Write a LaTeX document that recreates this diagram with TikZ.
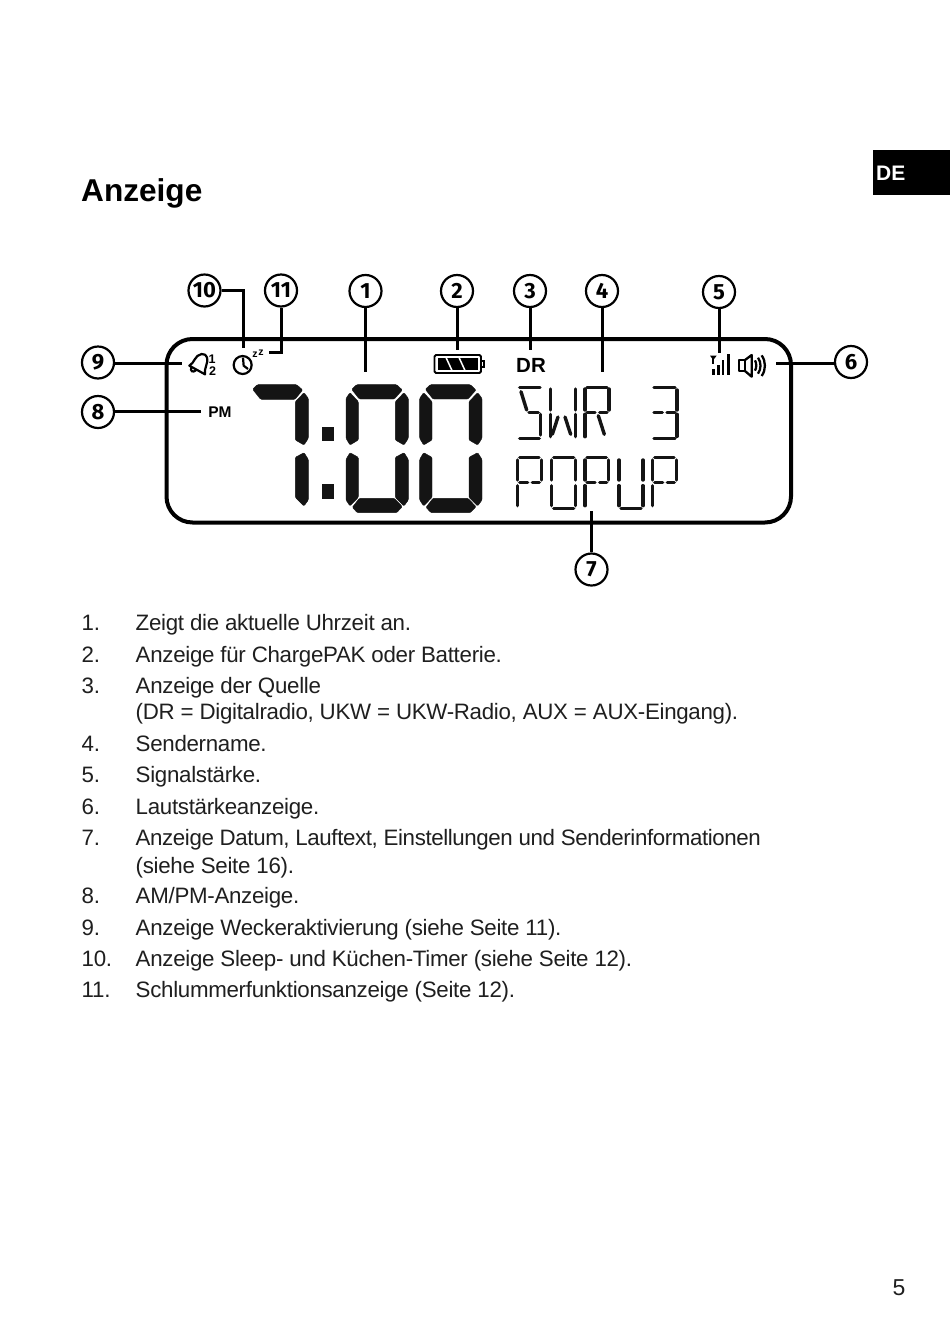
\documentclass[tikz,border=0pt]{standalone}
\usepackage{fontspec}
\setmainfont{Liberation Sans}
\newfontfamily\calloutfont{Fira Sans}
\newfontfamily\listfont[LetterSpace=-1.3]{Liberation Sans}
\newfontfamily\listtight[LetterSpace=-1.75]{Liberation Sans}
\tikzset{
 x=1pt,y=-1pt,
 callout/.style={circle,draw=black,line width=2.2pt,fill=white,minimum size=32pt,inner sep=0pt,font=\calloutfont\fontsize{22}{22}\selectfont\bfseries},
 leader/.style={line width=3pt,draw=black},
 framebox/.style={line width=4pt,draw=black,rounded corners=26pt},
 listnum/.style={anchor=base west,inner sep=0pt,text=black!88,font=\listfont\fontsize{22.3}{26}\selectfont},
 listtxt/.style={anchor=base west,inner sep=0pt,text=black!88,font=\listfont\fontsize{22.3}{26}\selectfont},
 seg/.style={fill=black!92,draw=black!92,line width=0.4pt,rounded corners=1pt},
 aseg/.style={line width=3.4pt,line cap=round,draw=black!92},
}
\newcommand{\digitzero}{%
 \fill[seg] (335,58)--(350,44)--(470,44)--(487,60)--(463,87)--(358,87)--cycle;
 \fill[seg] (330,68)--(355,95)--(355,210)--(330,225)--(318,205)--(318,85)--cycle;
 \fill[seg] (492,68)--(466,95)--(466,210)--(492,225)--(505,205)--(505,85)--cycle;
 \fill[seg] (330,248)--(355,262)--(355,382)--(330,408)--(318,390)--(318,268)--cycle;
 \fill[seg] (492,248)--(466,262)--(466,382)--(492,408)--(505,390)--(505,268)--cycle;
 \fill[seg] (358,385)--(463,385)--(487,410)--(470,428)--(352,428)--(337,412)--cycle;
}
\begin{document}
\begin{tikzpicture}
\useasboundingbox (0,0) rectangle (950,1339);
\fill[white] (0,0) rectangle (950,1339);
\node[anchor=base west,inner sep=0pt,font=\fontsize{31.6}{34}\selectfont\bfseries] (title) at (81,201) {Anzeige};
\fill[black] (873,150) rectangle (950,195);
\node[anchor=base west,inner sep=0pt,text=white,font=\fontsize{21}{24}\selectfont\bfseries] (lang) at (876,180) {DE};
\node[anchor=base,inner sep=0pt,text=black!88,font=\fontsize{23}{26}\selectfont] (page) at (899,1295) {5};
% frame
\draw[framebox] (166.5,339) rectangle (791,522.5);
% callouts
\node[callout] (c10) at (204.5,290.5) {10};
\node[callout] (c11) at (281,290.5) {11};
\node[callout] (c1) at (365.5,291) {1};
\node[callout] (c2) at (457,291) {2};
\node[callout] (c3) at (530,291) {3};
\node[callout] (c4) at (602,291) {4};
\node[callout] (c5) at (719,292) {5};
\node[callout] (c6) at (851,362) {6};
\node[callout] (c7) at (591.5,569.5) {7};
\node[callout] (c8) at (98,412) {8};
\node[callout] (c9) at (98,362.5) {9};
\coordinate (e10) at (243,348);
\coordinate (e11) at (269,352);
\coordinate (e1) at (365.5,372);
\coordinate (e2) at (457,350);
\coordinate (e3) at (530,350);
\coordinate (e4) at (602,372);
\coordinate (e5) at (719,353);
\coordinate (e6) at (776,363);
\coordinate (e7) at (591.5,511);
\coordinate (e8) at (201,411);
\coordinate (e9) at (182,363);
\draw[leader] (c10.east) -| (e10);
\draw[leader] (c11.south) |- (e11);
\draw[leader] (c1.south) -- (e1);
\draw[leader] (c2.south) -- (e2);
\draw[leader] (c3.south) -- (e3);
\draw[leader] (c4.south) -- (e4);
\draw[leader] (c5.south) -- (e5);
\draw[leader] (c6.west |- e6) -- (e6);
\draw[leader] (c7.north) -- (e7);
\draw[leader] (c8.east |- e8) -- (e8);
\draw[leader] (c9.east |- e9) -- (e9);
% PM DR
\node[inner sep=0pt,font=\fontsize{15.5}{16}\selectfont\bfseries] (pm) at (220,412.5) {PM};
\node[inner sep=0pt,font=\fontsize{20.5}{20}\selectfont\bfseries] (dr) at (531,365) {DR};
% big digits
\begin{scope}[shift={(240,370)},x=0.33333pt,y=-0.33333pt]
 \digitzero
 \begin{scope}[shift={(221,0)}]\digitzero\end{scope}
 \fill[seg] (38,58)--(52,44)--(170,44)--(188,60)--(165,88)--(62,88)--cycle;
 \fill[seg] (192,68)--(166,95)--(166,210)--(192,225)--(205,205)--(205,85)--cycle;
 \fill[seg] (192,248)--(166,262)--(166,382)--(192,408)--(205,390)--(205,268)--cycle;
 \fill[black!92] (245,172) rectangle (281,214);
 \fill[black!92] (245,342) rectangle (281,386);
\end{scope}
% alphanumeric LCD text
\begin{scope}[shift={(505,375)},x=0.33333pt,y=-0.33333pt]
 % S
 \draw[aseg] (44,38)--(105,38);
 \draw[aseg] (48,50)--(65,105);
 \draw[aseg] (72,112)--(100,112);
 \draw[aseg] (106,118)--(106,180);
 \draw[aseg] (44,190)--(103,190);
 % W
 \draw[aseg] (137,42)--(137,105);
 \draw[aseg] (137,118)--(137,185);
 \draw[aseg] (159,126)--(142,178);
 \draw[aseg] (212,42)--(212,105);
 \draw[aseg] (212,118)--(212,185);
 \draw[aseg] (180,126)--(197,178);
 % R
 \draw[aseg] (240,42)--(240,105);
 \draw[aseg] (240,118)--(240,185);
 \draw[aseg] (312,42)--(312,105);
 \draw[aseg] (246,38)--(306,38);
 \draw[aseg] (246,112)--(270,112);
 \draw[aseg] (284,112)--(306,112);
 \draw[aseg] (280,122)--(298,178);
 % 3
 \draw[aseg] (447,38)--(510,38);
 \draw[aseg] (516,45)--(516,105);
 \draw[aseg] (447,112)--(472,112);
 \draw[aseg] (486,112)--(510,112);
 \draw[aseg] (516,118)--(516,184);
 \draw[aseg] (447,190)--(510,190);
 % POPUP letters
 \foreach \ox in {0,202,405}{
  \begin{scope}[shift={(\ox,0)}]
   \draw[aseg] (38,255)--(38,315);
   \draw[aseg] (38,332)--(38,392);
   \draw[aseg] (44,248)--(102,248);
   \draw[aseg] (109,255)--(109,315);
   \draw[aseg] (44,323)--(68,323);
   \draw[aseg] (82,323)--(103,323);
  \end{scope}}
 % O
 \draw[aseg] (140,255)--(140,315);
 \draw[aseg] (140,332)--(140,392);
 \draw[aseg] (212,255)--(212,315);
 \draw[aseg] (212,332)--(212,392);
 \draw[aseg] (146,248)--(206,248);
 \draw[aseg] (146,400)--(206,400);
 % U
 \draw[aseg] (342,255)--(342,315);
 \draw[aseg] (342,332)--(342,392);
 \draw[aseg] (414,255)--(414,315);
 \draw[aseg] (414,332)--(414,392);
 \draw[aseg] (348,400)--(408,400);
\end{scope}
% bell, clock
\begin{scope}[shift={(170,335)},x=0.33333pt,y=-0.33333pt]
 \draw[line width=2.2pt,line join=round] (58,92) .. controls (74,84) and (74,60) .. (95,57) .. controls (112,55) and (116,75) .. (109,90) .. controls (105,100) and (104,110) .. (105,118) -- cycle;
 \draw[line width=2.2pt] (64,97) .. controls (60,108) and (68,114) .. (78,106);
 \draw[line width=2.2pt] (218,90) circle (27);
 \draw[line width=2.2pt] (219,68)--(221,92)--(234,102);
\end{scope}
\node[inner sep=0pt,font=\fontsize{12.5}{13}\selectfont\bfseries] (al1) at (212,359) {1};
\node[inner sep=0pt,font=\fontsize{12.5}{13}\selectfont\bfseries] (al2) at (212.5,371.5) {2};
\node[inner sep=0pt,font=\fontsize{10.5}{10}\selectfont\bfseries] (z1) at (255,355) {z};
\node[inner sep=0pt,font=\fontsize{10.5}{10}\selectfont\bfseries] (z2) at (261,352.5) {z};
% battery
\draw[line width=1.8pt,rounded corners=1.5pt] (434.5,355) rectangle (481,373);
\fill[black] (437.5,358) rectangle (478,370);
\draw[white,line width=1.5pt] (446,357.5)--(452,370.5);
\draw[white,line width=1.5pt] (459,357.5)--(465,370.5);
\fill[black] (481,360) rectangle (485,368);
\fill[white] (481.5,362) rectangle (483.2,366);
% signal and speaker
\begin{scope}[shift={(700,345)},x=0.33333pt,y=-0.33333pt]
 \fill[black] (30,32)--(50,32)--(40,45)--cycle;
 \draw[line width=2pt] (40,35)--(40,58);
 \draw[line width=2.4pt] (40,72)--(40,90);
 \draw[line width=2.4pt] (55,60)--(55,90);
 \draw[line width=2.4pt] (69,45)--(69,90);
 \draw[line width=2.4pt] (85,28)--(85,90);
 \draw[line width=2.3pt,line join=round] (118,45) rectangle (135,78);
 \draw[line width=2.3pt,line join=round] (135,45)--(155,30)--(155,95)--(135,78);
 \draw[line width=2.3pt] (165,46) .. controls (170,55) and (170,68) .. (165,77);
 \draw[line width=2.3pt] (174,38) .. controls (184,52) and (184,72) .. (174,86);
 \draw[line width=2.3pt] (185,31) .. controls (198,50) and (198,74) .. (185,93);
\end{scope}
% list
\foreach \n/\y/\t in {
 1./630/{Zeigt die aktuelle Uhrzeit an.},
 2./662/{Anzeige für ChargePAK oder Batterie.},
 3./693/{Anzeige der Quelle},
 4./751/{Sendername.},
 5./782/{Signalstärke.},
 6./814/{Lautstärkeanzeige.},
 7./845/{\listtight Anzeige Datum, Lauftext, Einstellungen und Senderinformationen},
 8./903/{AM/PM-Anzeige.},
 9./935/{Anzeige Weckeraktivierung (siehe Seite 11).},
 10./966/{Anzeige Sleep- und Küchen-Timer (siehe Seite 12).},
 11./997/{Schlummerfunktionsanzeige (Seite 12).}}{
 \node[listnum] (n\y) at (81.5,\y) {\n};
 \node[listtxt] (t\y) at (135.5,\y) {\t};
}
\node[listtxt] (t719) at (135.5,719) {(DR = Digitalradio, UKW = UKW-Radio, AUX = AUX-Eingang).};
\node[listtxt] (t873) at (135.5,873) {(siehe Seite 16).};
\end{tikzpicture}
\end{document}
